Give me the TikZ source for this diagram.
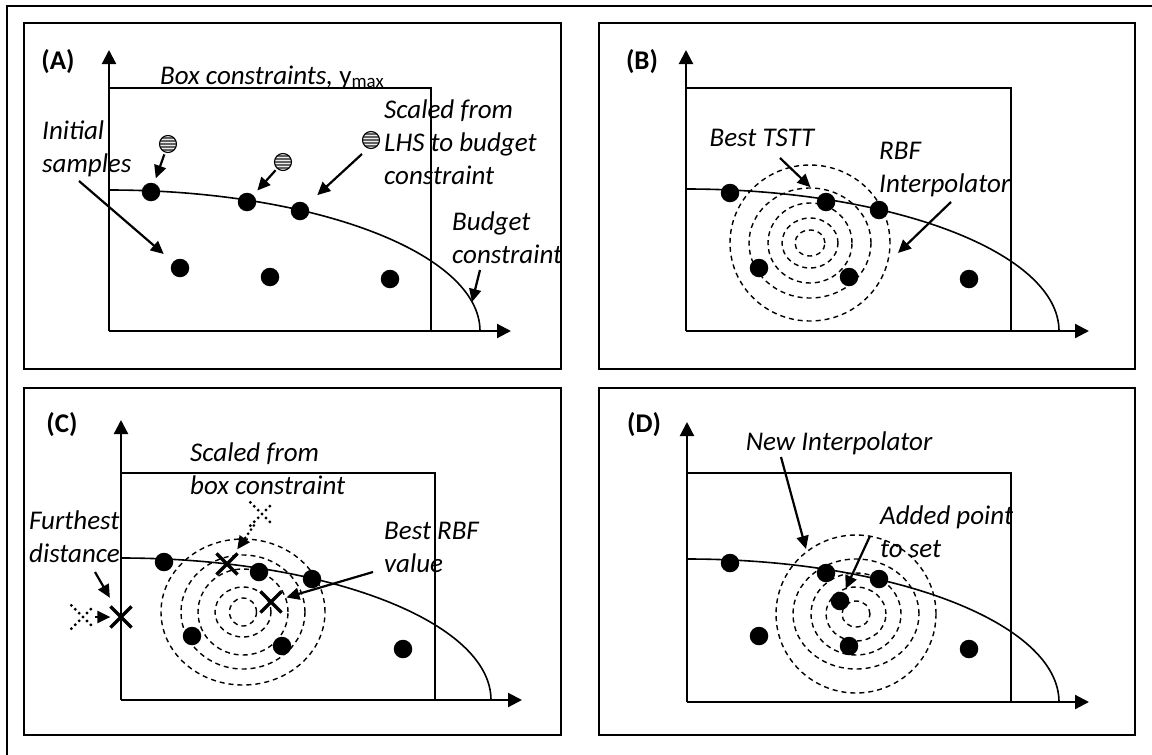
\documentclass[tikz,border=0pt]{standalone}
\usepackage{fontspec}
\setmainfont{Carlito}
\usetikzlibrary{arrows.meta,shapes.misc}
\begin{document}
\begin{tikzpicture}[x=1pt,y=-1pt,
  frame/.style={line width=2.2pt},
  axis/.style={line width=2.2pt,-{Triangle[length=14pt,width=14pt]}},
  boxc/.style={line width=1.8pt},
  budget/.style={line width=1.6pt},
  dot/.style={circle,fill=black,inner sep=0pt,minimum size=18.5pt},
  ring/.style={line width=1.4pt,dash pattern=on 5pt off 4pt},
  ann/.style={line width=2.2pt,-{Triangle[length=13pt,width=12pt]}},
  txt/.style={font=\fontsize{27}{33}\selectfont\itshape,inner sep=0pt,align=left},
  plabel/.style={font=\fontsize{27}{33}\selectfont\bfseries,inner sep=0pt},
  hatch/.style={circle,draw,line width=1.1pt,fill=gray!15,inner sep=0pt,minimum size=17pt,
    path picture={\foreach \k in {-9,-6,...,9}{\draw[gray!75!black,line width=1.5pt] ([xshift=-11pt,yshift=\k pt]path picture bounding box.center) -- ++(22pt,0pt);}}},
  xmark/.style={cross out,draw,line width=3.2pt,inner sep=0pt,minimum size=18pt},
  dxmark/.style={cross out,draw,line width=3.2pt,line cap=round,dash pattern=on 0pt off 5.5pt,inner sep=0pt,minimum size=20pt},
  dotshaft/.style={line width=3pt,line cap=round,dash pattern=on 0pt off 5pt},
]
\useasboundingbox (0,0) rectangle (1152,755);
% outer frame
\draw[frame] (7,755) -- (7,6) -- (1152,6);

% ================= Panel A =================
\draw[frame] (24,23) rectangle (561,369);
\node[plabel] (labA) at (58,62) {(A)};
\coordinate (OA) at (109,331);
\coordinate (YA) at (109,50);
\coordinate (XA) at (511,331);
\draw[axis] (OA) -- (YA);
\draw[axis] (OA) -- (XA);
\draw[boxc] (109,88) -- (431,88) -- (431,331);
\draw[budget] (109,190) arc[start angle=90,end angle=0,x radius=371pt,y radius=141pt];
\node[txt,anchor=base west] (boxlbl) at (160,84) {Box constraints, {\upshape y\textsubscript{max}}};
\node[dot] (a1) at (151,192) {};
\node[dot] (a2) at (247,202) {};
\node[dot] (a3) at (300,211) {};
\node[dot] (a4) at (180,268) {};
\node[dot] (a5) at (270,277) {};
\node[dot] (a6) at (390,279) {};
\node[hatch] (h1) at (168,144) {};
\node[hatch] (h2) at (283,162) {};
\node[hatch] (h3) at (371,140) {};
\node[txt,anchor=west] (tA1) at (42,149) {Initial\\samples};
\node[txt,anchor=west] (tA2) at (384,142) {Scaled from\\LHS to budget\\constraint};
\node[txt,anchor=west] (tA3) at (452,238) {Budget\\constraint};
\draw[ann,shorten <=2pt,shorten >=5pt] (h1) -- (a1);
\draw[ann,shorten <=2pt,shorten >=6pt] (h2) -- (a2);
\coordinate (sA3) at (362,154);
\draw[ann,shorten >=14pt] (sA3) -- (a3);
\coordinate (sA1) at (79,181);
\draw[ann,shorten >=12pt] (sA1) -- (a4);
\coordinate (sA4) at (480,270);
\coordinate (eA4) at (472,302);
\draw[ann] (sA4) -- (eA4);

% ================= Panel B =================
\draw[frame] (599,23) rectangle (1135,369);
\node[plabel] (labB) at (642,62) {(B)};
\coordinate (OB) at (686,331);
\coordinate (YB) at (686,50);
\coordinate (XB) at (1089,331);
\draw[axis] (OB) -- (YB);
\draw[axis] (OB) -- (XB);
\draw[boxc] (686,88) -- (1011,88) -- (1011,331);
\draw[budget] (686,189) arc[start angle=90,end angle=0,x radius=373pt,y radius=142pt];
\foreach \rx/\ry in {15/13,28/25,42/40,61/55,80/78}
  \draw[ring] (810,243) ellipse [x radius=\rx pt,y radius=\ry pt];
\node[dot] (b1) at (730,193) {};
\node[dot] (b2) at (826,202) {};
\node[dot] (b3) at (879,210) {};
\node[dot] (b4) at (759,268) {};
\node[dot] (b5) at (849,277) {};
\node[dot] (b6) at (969,279) {};
\node[txt] (tB1) at (762,138) {Best TSTT};
\node[txt,anchor=west] (tB2) at (879,169.5) {RBF\\Interpolator};
\coordinate (sB1) at (780,158);
\draw[ann,shorten >=12pt] (sB1) -- (b2);
\coordinate (sB2) at (951,202);
\coordinate (eB2) at (898,253);
\draw[ann] (sB2) -- (eB2);

% ================= Panel C =================
\draw[frame] (24,388) rectangle (561,735);
\node[plabel] (labC) at (62,425) {(C)};
\coordinate (OC) at (121,700);
\coordinate (YC) at (121,420);
\coordinate (XC) at (522,700);
\draw[axis] (OC) -- (YC);
\draw[axis] (OC) -- (XC);
\draw[boxc] (121,473) -- (435,473) -- (435,700);
\draw[budget] (121,558) arc[start angle=90,end angle=0,x radius=370pt,y radius=142pt];
\foreach \rx/\ry in {13.5/14,28/25,45/43,62/57,82/73}
  \draw[ring] (243,612) ellipse [x radius=\rx pt,y radius=\ry pt];
\node[dot] (c1) at (164,562) {};
\node[dot] (c2) at (259,572) {};
\node[dot] (c3) at (312,579) {};
\node[dot] (c4) at (192,636) {};
\node[dot] (c5) at (282,646) {};
\node[dot] (c6) at (403,649) {};
\node[xmark] (x1) at (227,564) {};
\node[xmark] (x2) at (271,602) {};
\node[xmark] (x3) at (121,617) {};
\node[dxmark] (dx1) at (262,514) {};
\node[dxmark] (dx2) at (83,617) {};
\node[txt,anchor=west] (tC1) at (190,469) {Scaled from\\box constraint};
\node[txt,anchor=west] (tC2) at (29,537) {Furthest\\distance};
\node[txt,anchor=west] (tC3) at (384,547) {Best RBF\\value};
\draw[dotshaft,shorten >=14pt] (dx1) -- (x1);
\draw[ann,shorten <=18pt,shorten >=5pt] (dx1) -- (x1);
\draw[ann] (dx2) -- (x3);
\coordinate (sC1) at (95,572);
\draw[ann,shorten >=10pt] (sC1) -- (x3);
\coordinate (sC2) at (373,572);
\draw[ann,shorten >=5pt] (sC2) -- (x2);

% ================= Panel D =================
\draw[frame] (599,388) rectangle (1135,735);
\node[plabel] (labD) at (644,425) {(D)};
\coordinate (OD) at (687,702);
\coordinate (YD) at (687,422);
\coordinate (XD) at (1089,702);
\draw[axis] (OD) -- (YD);
\draw[axis] (OD) -- (XD);
\draw[boxc] (687,473) -- (1011,473) -- (1011,702);
\draw[budget] (687,559) arc[start angle=90,end angle=0,x radius=372pt,y radius=143pt];
\foreach \rx/\ry in {14/13,30/27,45/41,63/55,80/79}
  \draw[ring] (856,614) ellipse [x radius=\rx pt,y radius=\ry pt];
\node[dot] (d1) at (730,563) {};
\node[dot] (d2) at (826,573) {};
\node[dot] (d3) at (879,579) {};
\node[dot] (d4) at (840,601) {};
\node[dot] (d5) at (759,636) {};
\node[dot] (d6) at (849,646) {};
\node[dot] (d7) at (969,649) {};
\node[txt] (tD1) at (839,443) {New Interpolator};
\node[txt,anchor=west] (tD2) at (880,531.5) {Added point\\to set};
\coordinate (sD1) at (781,457);
\coordinate (eD1) at (806,549);
\draw[ann] (sD1) -- (eD1);
\coordinate (sD2) at (870,536);
\draw[ann,shorten >=4pt] (sD2) -- (d4);
\end{tikzpicture}
\end{document}
